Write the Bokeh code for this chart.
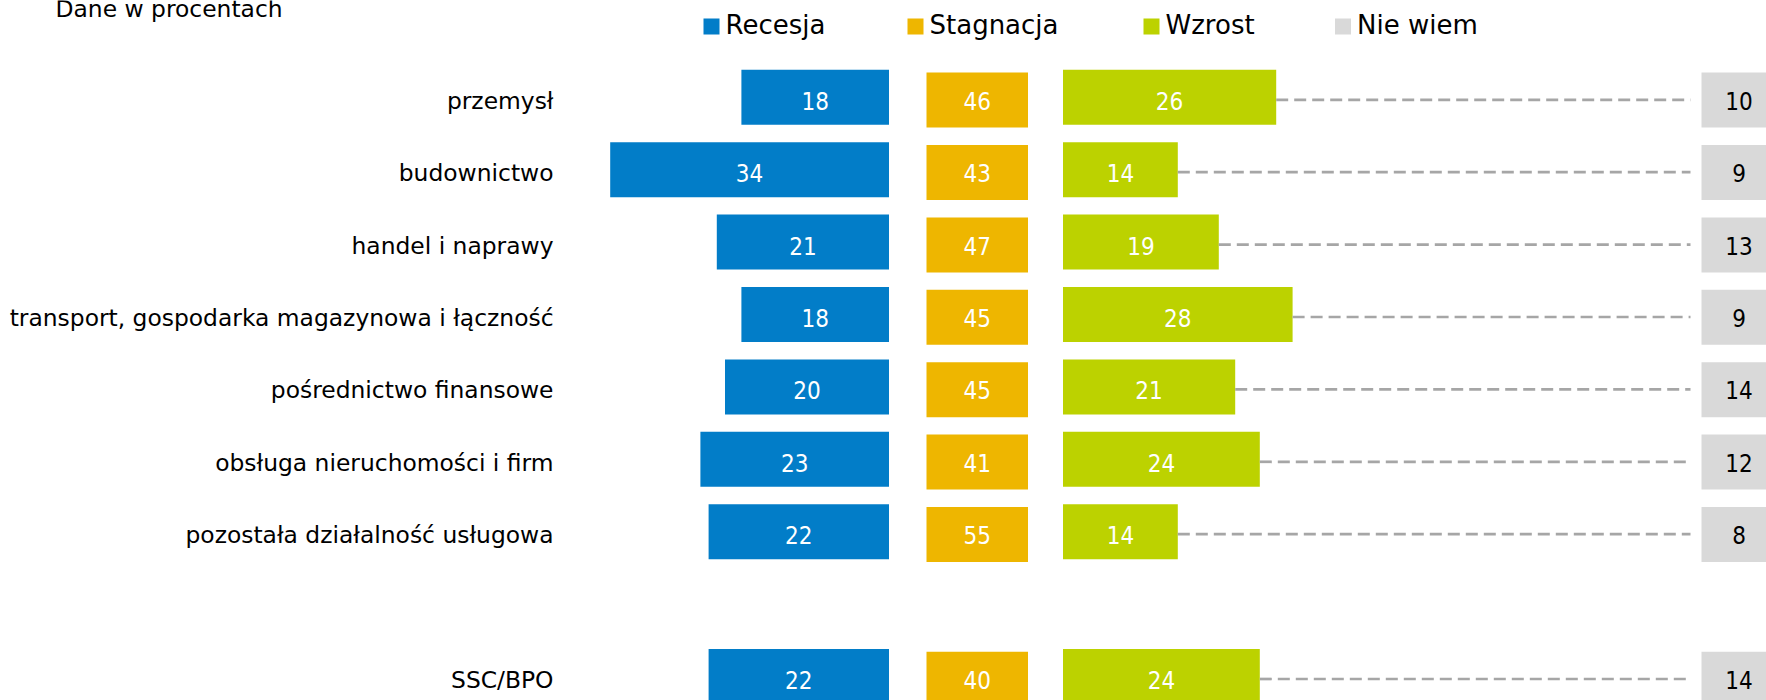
from bokeh.plotting import figure
from bokeh.models import Range1d, ColumnDataSource
from bokeh.core.properties import value
from bokeh.embed import file_html
from bokeh.resources import INLINE

# ---- data ----
categories = ["przemysł", "budownictwo", "handel i naprawy",
              "transport, gospodarka magazynowa i łączność",
              "pośrednictwo finansowe", "obsługa nieruchomości i firm",
              "pozostała działalność usługowa", "SSC/BPO"]
row_index = [0, 1, 2, 3, 4, 5, 6, 8]
recesja = [18, 34, 21, 18, 20, 23, 22, 22]
stagnacja = [46, 43, 47, 45, 45, 41, 55, 40]
wzrost = [26, 14, 19, 28, 21, 24, 14, 24]
nie_wiem = [10, 9, 13, 9, 14, 12, 8, 14]
series_names = ["Recesja", "Stagnacja", "Wzrost", "Nie wiem"]
colors = ["#027dc8", "#eeb600", "#bcd200", "#d9d9d9"]
note = "Dane w procentach"

# ---- layout (reference pixel space) ----
FONT = "DejaVu Sans"
NUM_FONT = "DejaVu Sans Condensed"
W, H = 1766, 700
PX = 8.2           # pixels per percent
ROW0, ROW_STEP, BAR_H = 96.8, 72.4, 55
BOX_DY = 2.8
REC_ANCHOR = 888.5
STAG_L, STAG_R = 926, 1027.5
WZ_ANCHOR = 1062.5
DASH_END = 1690
NW_L, NW_R = 1701, 1790
NW_LABEL_X = 1738.5
LABEL_X = 553

ys = [ROW0 + i * ROW_STEP for i in row_index]

p = figure(width=W, height=H, output_backend="svg", toolbar_location=None,
           x_range=Range1d(0, W), y_range=Range1d(H, 0), min_border=0)
p.axis.visible = False
p.grid.visible = False
p.outline_line_color = None

rec_src = ColumnDataSource(dict(y=ys, left=[REC_ANCHOR - v * PX for v in recesja],
                                right=[REC_ANCHOR] * len(ys)))
p.hbar(y="y", left="left", right="right", height=BAR_H, source=rec_src,
       fill_color=colors[0], line_color=None)

stag_src = ColumnDataSource(dict(y=[y + BOX_DY for y in ys], left=[STAG_L] * len(ys),
                                 right=[STAG_R] * len(ys)))
p.hbar(y="y", left="left", right="right", height=BAR_H, source=stag_src,
       fill_color=colors[1], line_color=None)

wz_right = [WZ_ANCHOR + v * PX for v in wzrost]
wz_src = ColumnDataSource(dict(y=ys, left=[WZ_ANCHOR] * len(ys), right=wz_right))
p.hbar(y="y", left="left", right="right", height=BAR_H, source=wz_src,
       fill_color=colors[2], line_color=None)

p.segment(x0=wz_right, y0=[y + 2.5 for y in ys], x1=[DASH_END] * len(ys),
          y1=[y + 2.5 for y in ys],
          line_color="#a6a6a6", line_width=2.7, line_dash="12 6")

nw_src = ColumnDataSource(dict(y=[y + BOX_DY for y in ys], left=[NW_L] * len(ys),
                               right=[NW_R] * len(ys)))
p.hbar(y="y", left="left", right="right", height=BAR_H, source=nw_src,
       fill_color=colors[3], line_color=None)


def put_labels(xs, vals, color):
    p.text(x=xs, y=[y + 3.5 for y in ys], text=[str(v) for v in vals],
           text_align="center", text_baseline="middle", text_color=color,
           text_font=value(NUM_FONT), text_font_size="24px")


put_labels([(l + r) / 2 for l, r in zip(rec_src.data["left"], rec_src.data["right"])], recesja, "white")
put_labels([(STAG_L + STAG_R) / 2] * len(ys), stagnacja, "white")
put_labels([(l + r) / 2 for l, r in zip(wz_src.data["left"], wz_src.data["right"])], wzrost, "white")
put_labels([NW_LABEL_X] * len(ys), nie_wiem, "black")

# category labels
p.text(x=[LABEL_X] * len(ys), y=[y + 3.5 for y in ys], text=categories, text_align="right",
       text_baseline="middle", text_color="black",
       text_font=value(FONT), text_font_size="23.4px")

# note
p.text(x=[55], y=[8.7], text=[note], text_align="left", text_baseline="middle",
       text_color="black", text_font=value(FONT), text_font_size="23.4px")

# legend
leg_sq_x = [703, 907, 1143, 1334.5]
LEG_Y = 26
p.rect(x=[x + 8 for x in leg_sq_x], y=[LEG_Y] * 4, width=16, height=16,
       fill_color=colors, line_color=None)
p.text(x=[x + 22 for x in leg_sq_x], y=[24.3] * 4, text=series_names,
       text_align="left", text_baseline="middle", text_color="black",
       text_font=value(FONT), text_font_size="26px")

open("out.html", "w").write(file_html(p, INLINE))
